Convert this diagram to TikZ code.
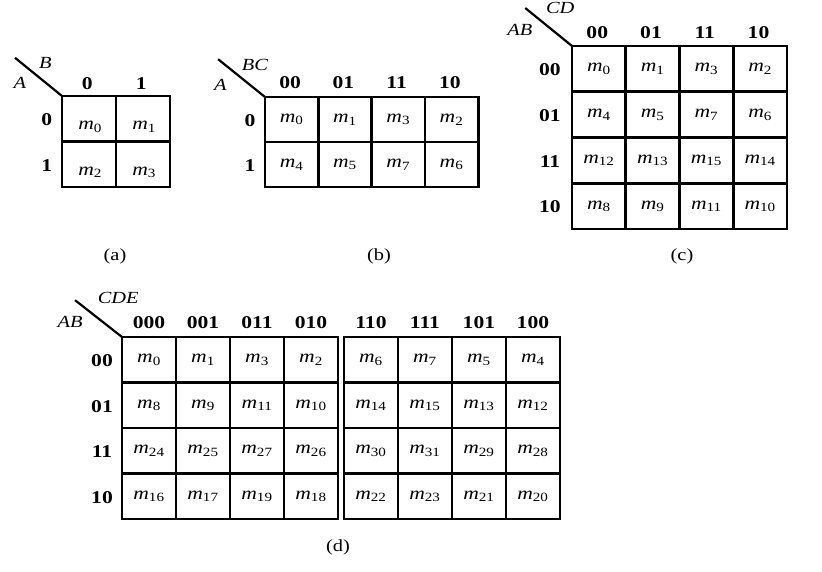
\documentclass[tikz,border=0pt]{standalone}
\usepackage{fontspec}
\setmainfont[FakeStretch=1.2]{Liberation Serif}
\newcommand{\mt}[1]{\textit{m}\textsubscript{#1}}

\tikzset{
  kgrid/.style={line width=2.6pt},
  kdiag/.style={line width=2.2pt},
  khead/.style={font=\fontsize{18}{18}\selectfont\bfseries},
  kvar/.style={font=\fontsize{17}{17}\selectfont\itshape},
  kcell/.style={font=\fontsize{18}{18}\selectfont},
  kcap/.style={font=\fontsize{17}{17}\selectfont}
}

\begin{document}
\begin{tikzpicture}[x=1pt,y=-1pt]
\useasboundingbox (0,0) rectangle (822,571);

% (a) two variables
\begin{scope}[shift={(62,96)},x=54pt,y=-45.5pt]
  \draw[kgrid] (0,0) rectangle (2,2) (1,0) -- (1,2) (0,1) -- (2,1);
  \coordinate (a-o) at (0,0);
  \coordinate (a-d) at (-0.87,-0.84);
  \draw[kdiag] (a-d) -- (a-o);
  \node[kvar] (a-B) at (-0.31,-0.73) {B};
  \node[kvar] (a-A) at (-0.78,-0.29) {A};
  \foreach \v [count=\i from 0] in {0,1} {
    \node[khead] (a-col\i) at (\i+0.47,-0.27) {\v};
    \node[khead] (a-row\i) at (-0.28,\i+0.52) {\v};
  }
  \foreach \r [count=\i from 0] in {0,1}
    \foreach \c [count=\j from 0] in {0,1} {
      \pgfmathtruncatemacro\k{2*\r+\c}
      \node[kcell] (a-m\k) at (\j+0.52,\i+0.68) {\mt{\k}};
    }
\end{scope}
\node[kcap] (capa) at (115,256) {(a)};

% (b) three variables
\begin{scope}[shift={(265,97)},x=53.3pt,y=-45pt]
  \draw[kgrid] (0,0) rectangle (4,2) (0,1) -- (4,1);
  \foreach \j in {1,2,3} \draw[kgrid] (\j,0) -- (\j,2);
  \coordinate (b-o) at (0,0);
  \coordinate (b-d) at (-0.88,-0.84);
  \draw[kdiag] (b-d) -- (b-o);
  \node[kvar] (b-BC) at (-0.19,-0.71) {BC};
  \node[kvar] (b-A) at (-0.84,-0.27) {A};
  \foreach \v [count=\i from 0] in {00,01,11,10}
    \node[khead] (b-col\i) at (\i+0.47,-0.31) {\v};
  \foreach \v [count=\i from 0] in {0,1}
    \node[khead] (b-row\i) at (-0.28,\i+0.52) {\v};
  \foreach \r [count=\i from 0] in {0,1}
    \foreach \c [count=\j from 0] in {0,1,3,2} {
      \pgfmathtruncatemacro\k{4*\r+\c}
      \node[kcell] (b-m\k) at (\j+0.5,\i+0.5) {\mt{\k}};
    }
\end{scope}
\node[kcap] (capb) at (379,256) {(b)};

% (c) four variables
\begin{scope}[shift={(572,46)},x=53.75pt,y=-45.75pt]
  \draw[kgrid] (0,0) rectangle (4,4);
  \foreach \j in {1,2,3} \draw[kgrid] (\j,0) -- (\j,4) (0,\j) -- (4,\j);
  \coordinate (c-o) at (0,0);
  \coordinate (c-d) at (-0.87,-0.83);
  \draw[kdiag] (c-d) -- (c-o);
  \node[kvar] (c-CD) at (-0.22,-0.84) {CD};
  \node[kvar] (c-AB) at (-0.97,-0.35) {AB};
  \foreach \v [count=\i from 0] in {00,01,11,10} {
    \node[khead] (c-col\i) at (\i+0.47,-0.29) {\v};
    \node[khead] (c-row\i) at (-0.41,\i+0.52) {\v};
  }
  \foreach \r [count=\i from 0] in {0,1,3,2}
    \foreach \c [count=\j from 0] in {0,1,3,2} {
      \pgfmathtruncatemacro\k{4*\r+\c}
      \node[kcell] (c-m\k) at (\j+0.5,\i+0.5) {\mt{\k}};
    }
\end{scope}
\node[kcap] (capc) at (682,256) {(c)};

% (d) five variables, two halves
\begin{scope}[shift={(122,337)},x=54pt,y=-45.5pt]
  \def\g{0.11}
  \draw[kgrid] (0,0) rectangle (4,4) (4+\g,0) rectangle (8+\g,4);
  \foreach \j in {1,2,3} {
    \draw[kgrid] (\j,0) -- (\j,4) (\j+4+\g,0) -- (\j+4+\g,4);
    \draw[kgrid] (0,\j) -- (4,\j) (4+\g,\j) -- (8+\g,\j);
  }
  \coordinate (d-o) at (0,0);
  \coordinate (d-d) at (-0.87,-0.81);
  \draw[kdiag] (d-d) -- (d-o);
  \node[kvar] (d-CDE) at (-0.07,-0.86) {CDE};
  \node[kvar] (d-AB) at (-0.96,-0.33) {AB};
  \foreach \v [count=\i from 0] in {000,001,011,010,110,111,101,100} {
    \pgfmathsetmacro\xx{\i+0.5+(\i>3)*\g}
    \node[khead] (d-col\i) at (\xx,-0.31) {\v};
  }
  \foreach \v [count=\i from 0] in {00,01,11,10}
    \node[khead] (d-row\i) at (-0.37,\i+0.52) {\v};
  \foreach \r [count=\i from 0] in {0,1,3,2}
    \foreach \c [count=\j from 0] in {0,1,3,2,6,7,5,4} {
      \pgfmathtruncatemacro\k{8*\r+\c}
      \pgfmathsetmacro\xx{\j+0.5+(\j>3)*\g}
      \node[kcell] (d-m\k) at (\xx,\i+0.5) {\mt{\k}};
    }
\end{scope}
\node[kcap] (capd) at (338,547) {(d)};
\end{tikzpicture}
\end{document}
